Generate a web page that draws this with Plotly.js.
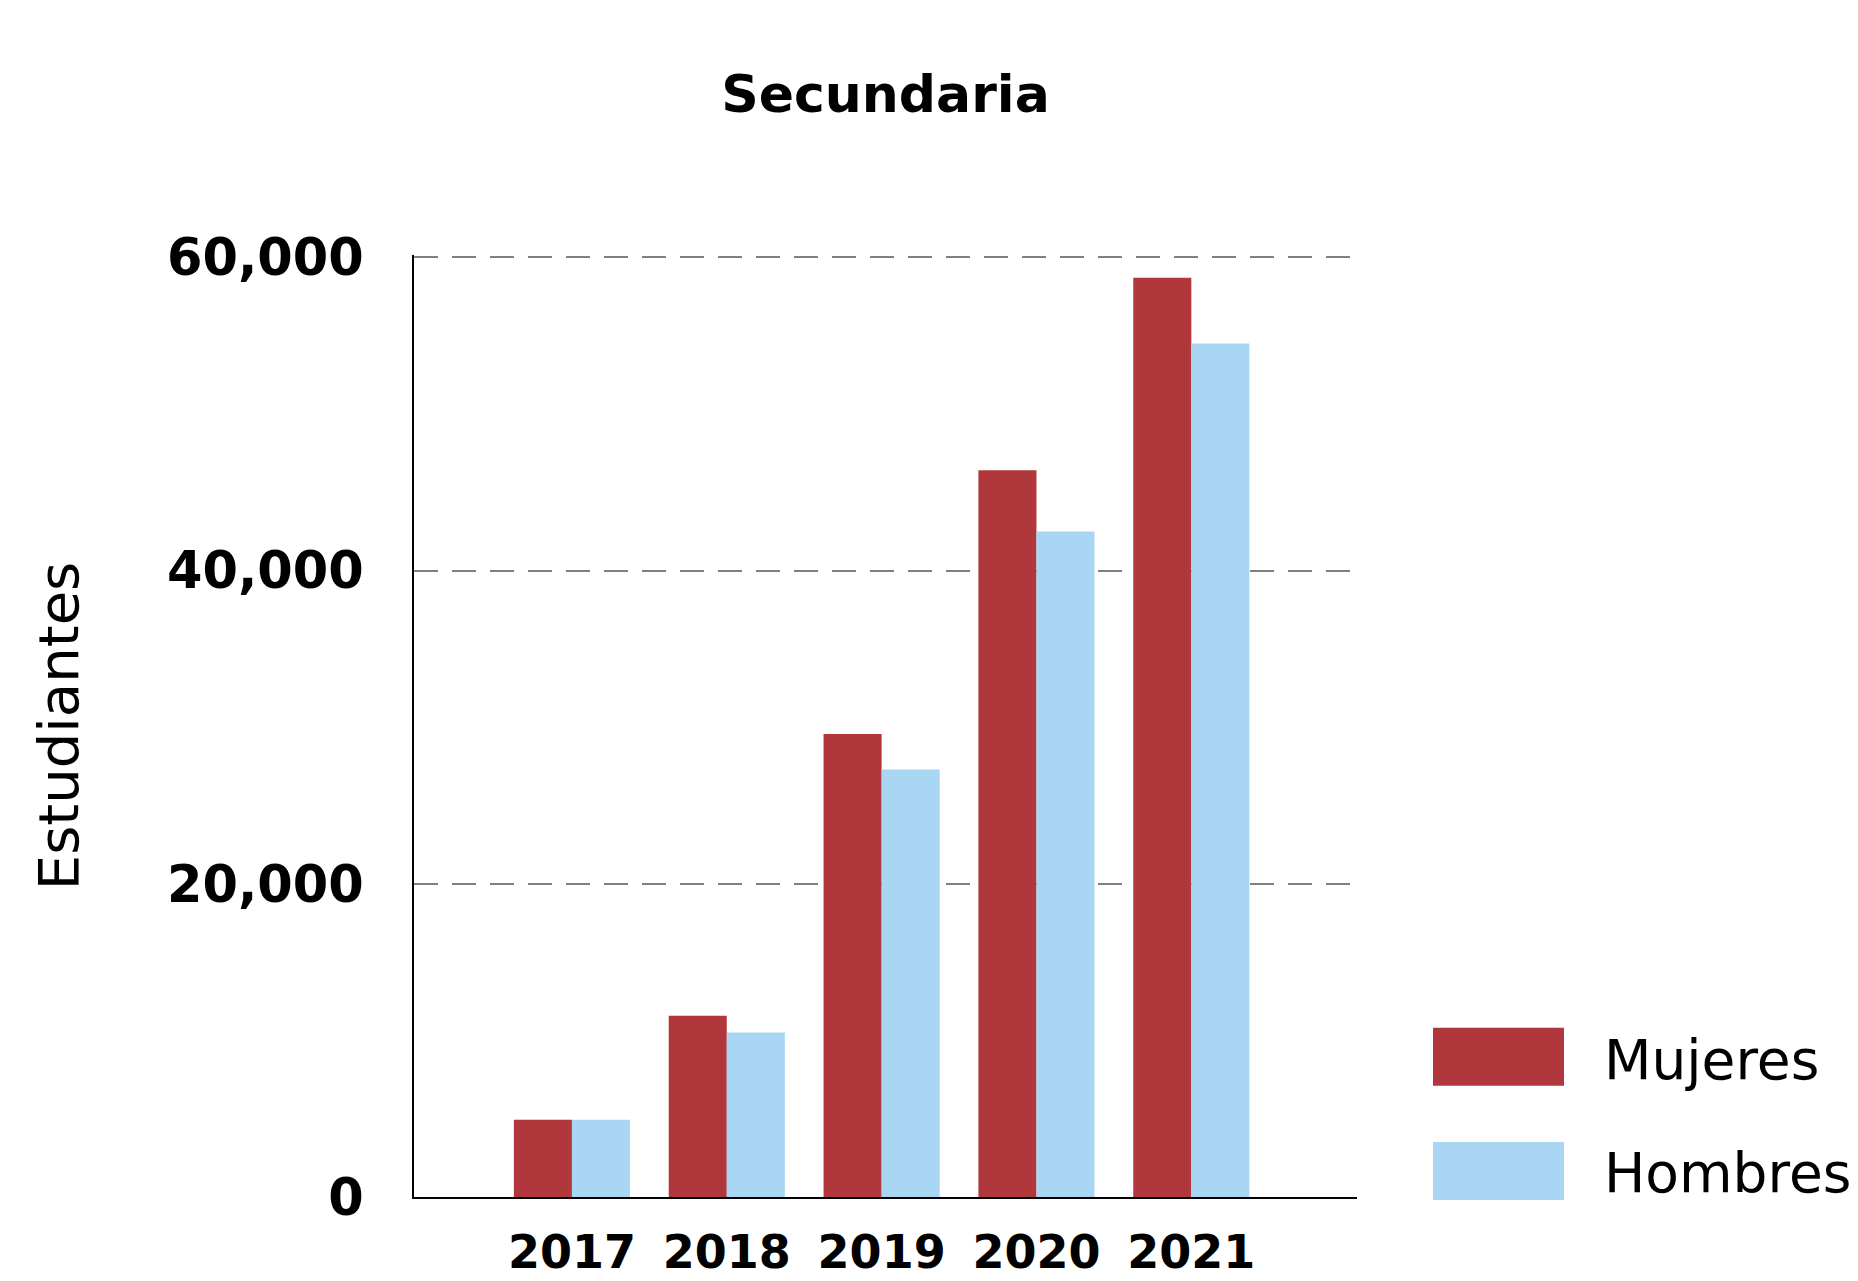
<!DOCTYPE html>
<html>
<head>
<meta charset="utf-8">
<script src="https://cdn.plot.ly/plotly-3.0.1.min.js"></script>
<style>html,body{margin:0;padding:0;background:#fff;}#chart{width:1858px;height:1281px;}</style>
</head>
<body>
<div id="chart"></div>
<script>
const years = ["2017", "2018", "2019", "2020", "2021"];
const mujeres = [4930, 11570, 29570, 46400, 58700];
const hombres = [4930, 10510, 27290, 42490, 54500];
const seriesNames = ["Mujeres", "Hombres"];
const yTicks = [0, 20000, 40000, 60000];
const chartTitle = "Secundaria";
const yTitle = "Estudiantes";

const red = "#B0373B";
const blue = "#A9D7F3";

const traces = [
  {type: "bar", name: seriesNames[0], x: years, y: mujeres, marker: {color: red}, hoverinfo: "x+y+name"},
  {type: "bar", name: seriesNames[1], x: years, y: hombres, marker: {color: blue}, hoverinfo: "x+y+name"}
];

const layout = {
  width: 1858, height: 1281,
  paper_bgcolor: "#fff", plot_bgcolor: "#fff",
  margin: {l: 414, r: 501, t: 255, b: 84, pad: 0},
  showlegend: false,
  barmode: "group", bargap: 0.25, bargroupgap: 0,
  font: {family: "DejaVu Sans", color: "#000"},
  title: {text: chartTitle, font: {family: "DejaVu Sans", size: 52, weight: "bold", color: "#000"},
          x: 0.5, xref: "paper", xanchor: "center", y: 1 - 94/1281, yref: "container", yanchor: "middle"},
  xaxis: {
    type: "category", range: [-1.02, 5.07], showgrid: false, zeroline: false,
    showline: true, linecolor: "#000", linewidth: 2, ticks: "",
    tickfont: {family: "DejaVu Sans", size: 46, weight: "bold", color: "#000"},
    ticklabelstandoff: 14, fixedrange: true
  },
  yaxis: {
    range: [0, 60150], tickvals: yTicks, tickformat: ",d",
    showgrid: true, gridcolor: "#808080", gridwidth: 2, griddash: "24px,14px",
    zeroline: false, showline: true, linecolor: "#000", linewidth: 2, ticks: "",
    tickfont: {family: "DejaVu Sans", size: 51, weight: "bold", color: "#000"},
    ticklabelstandoff: 38,
    title: {text: yTitle, font: {family: "DejaVu Sans", size: 56, color: "#000"}, standoff: 70},
    fixedrange: true
  },
  shapes: [
    {type: "rect", xref: "paper", yref: "paper", x0: 1.0806, x1: 1.2195, y0: 0.1181, y1: 0.1798, fillcolor: red, line: {width: 0}},
    {type: "rect", xref: "paper", yref: "paper", x0: 1.0806, x1: 1.2195, y0: -0.0032, y1: 0.0585, fillcolor: blue, line: {width: 0}}
  ],
  annotations: [
    {text: seriesNames[0], xref: "paper", yref: "paper", x: 1.2595, y: 0.1455, xanchor: "left", yanchor: "middle", showarrow: false,
     font: {family: "DejaVu Sans", size: 55, color: "#000"}},
    {text: seriesNames[1], xref: "paper", yref: "paper", x: 1.2595, y: 0.0250, xanchor: "left", yanchor: "middle", showarrow: false,
     font: {family: "DejaVu Sans", size: 55, color: "#000"}}
  ]
};

Plotly.newPlot("chart", traces, layout, {displayModeBar: false, staticPlot: false});
</script>
</body>
</html>
